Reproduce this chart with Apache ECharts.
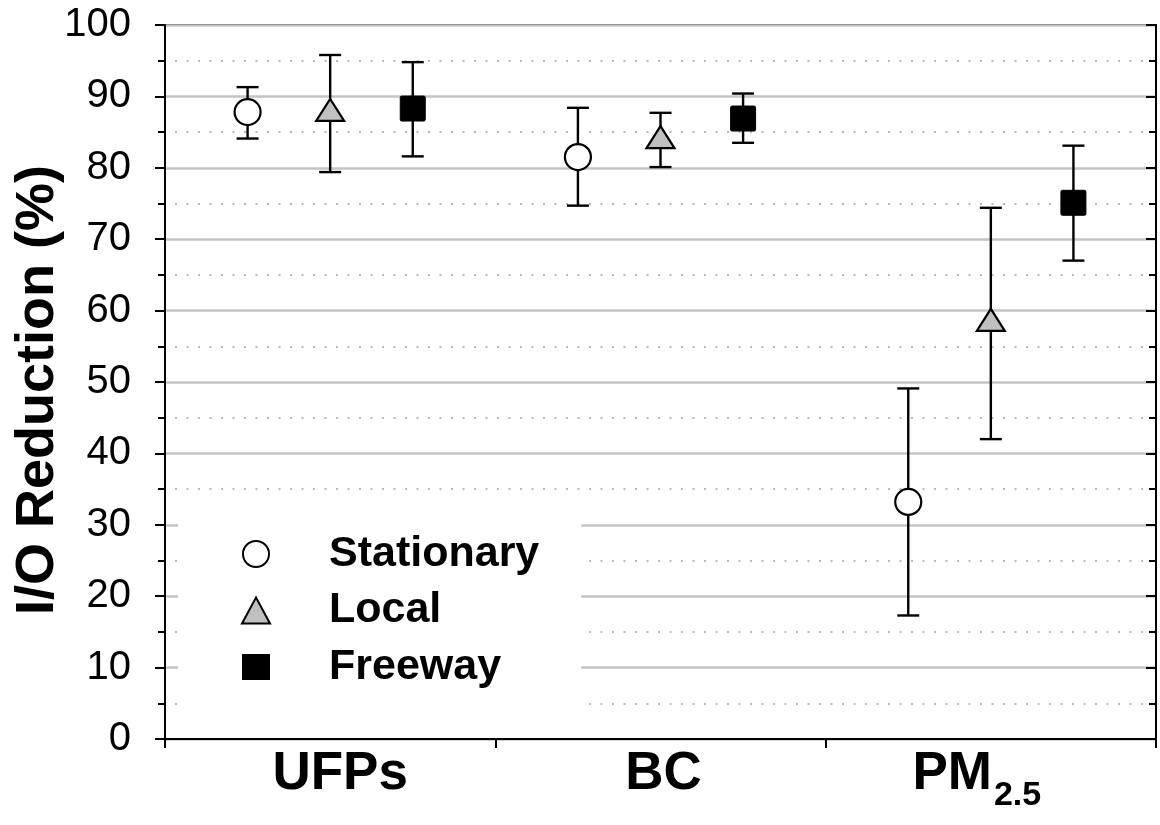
<!DOCTYPE html>
<html>
<head>
<meta charset="utf-8">
<script src="https://cdn.jsdelivr.net/npm/echarts@6/dist/echarts.min.js"></script>
<style>
  html, body { margin: 0; padding: 0; background: #fff; }
  #chart { width: 1160px; height: 825px; }
</style>
</head>
<body>
<div id="chart"></div>
<script>
// Pollutant groups along the x axis
const categories = ['UFPs', 'BC', 'PM2.5'];
const seriesNames = ['Stationary', 'Local', 'Freeway'];

// I/O reduction (%) per group: mean and the ends of the error bar
const stationaryMean = [87.8, 81.5, 33.2];
const stationaryLow  = [84.1, 74.7, 17.3];
const stationaryHigh = [91.3, 88.4, 49.1];

const localMean = [88.1, 84.3, 58.7];
const localLow  = [79.4, 80.1, 42.0];
const localHigh = [95.8, 87.7, 74.4];

const freewayMean = [88.3, 86.9, 75.1];
const freewayLow  = [81.6, 83.5, 67.0];
const freewayHigh = [94.8, 90.4, 83.1];

// Value axis range
const yMin = 0;
const yMax = 100;
const yStep = 10;

const FONT = "'Liberation Sans', Arial, sans-serif";

function rows(mean, low, high) {
  return mean.map((m, i) => [i, m, low[i], high[i]]);
}

// Marker looks and horizontal placement inside each category band
const looks = {
  Stationary: { offset: -0.25, shape: 'circle', fill: '#ffffff' },
  Local:      { offset: 0,     shape: 'triangle', fill: '#c0c0c0' },
  Freeway:    { offset: 0.25,  shape: 'square', fill: '#000000' }
};

// Small horizontal nudges of the category labels (style only)
const labelPad = {
  'UFPs':  [0, 0, 0, 20],
  'BC':    [0, 0, 0, 6],
  'PM2.5': [0, 28, 0, 0]
};

function markerShape(kind, x, y, fill) {
  const stroke = { stroke: '#000', lineWidth: 2.2, fill: fill };
  if (kind === 'circle') {
    return { type: 'circle', shape: { cx: x, cy: y, r: 13 }, style: stroke };
  }
  if (kind === 'triangle') {
    return {
      type: 'polygon',
      shape: { points: [[x - 14, y + 11], [x + 14, y + 11], [x, y - 11]] },
      style: Object.assign({ lineJoin: 'miter' }, stroke)
    };
  }
  return {
    type: 'rect',
    shape: { x: x - 12.5, y: y - 12.5, width: 25, height: 25, r: 1.5 },
    style: { fill: fill, stroke: '#000', lineWidth: 1 }
  };
}

function makeRenderer(look) {
  return function (params, api) {
    const cat = api.value(0);
    const band = api.size([1, 0])[0];
    const mid = api.coord([cat, api.value(1)]);
    const lo = api.coord([cat, api.value(2)]);
    const hi = api.coord([cat, api.value(3)]);
    const x = mid[0] + look.offset * band;
    const cap = 11;
    const line = { stroke: '#000', lineWidth: 2.4 };
    return {
      type: 'group',
      children: [
        { type: 'line', shape: { x1: x, y1: lo[1], x2: x, y2: hi[1] }, style: line },
        { type: 'line', shape: { x1: x - cap, y1: hi[1], x2: x + cap, y2: hi[1] }, style: line },
        { type: 'line', shape: { x1: x - cap, y1: lo[1], x2: x + cap, y2: lo[1] }, style: line },
        markerShape(look.shape, x, mid[1], look.fill)
      ]
    };
  };
}

const seriesData = {
  Stationary: rows(stationaryMean, stationaryLow, stationaryHigh),
  Local: rows(localMean, localLow, localHigh),
  Freeway: rows(freewayMean, freewayLow, freewayHigh)
};

const legendIcons = {
  Stationary: { icon: 'circle', itemStyle: { color: '#fff', borderColor: '#000', borderWidth: 2 } },
  Local: { icon: 'triangle', itemStyle: { color: '#c0c0c0', borderColor: '#000', borderWidth: 2 } },
  Freeway: { icon: 'rect', itemStyle: { color: '#000', borderColor: '#000', borderWidth: 0 } }
};

// Rich-text styles for the category labels (PM2.5 gets a subscript)
const catRich = {
  s: { fontFamily: FONT, fontWeight: 'bold', fontSize: 34, color: '#000', lineHeight: 34, padding: [31, 28, 0, 2] }
};
categories.forEach((c, i) => {
  const p = labelPad[c];
  catRich['c' + i] = {
    fontFamily: FONT, fontWeight: 'bold', fontSize: 53, color: '#000', lineHeight: 53,
    padding: [0, c === 'PM2.5' ? 0 : p[1], 12, p[3]]
  };
});

const chart = echarts.init(document.getElementById('chart'), null, { renderer: 'canvas' });

chart.setOption({
  animation: false,
  backgroundColor: '#fff',
  grid: {
    left: 165, right: 4, top: 25, bottom: 86,
    outerBoundsMode: 'none',
    containLabel: false,
    show: true, borderColor: '#000', borderWidth: 2, backgroundColor: 'transparent'
  },
  legend: {
    orient: 'vertical',
    left: 178,
    top: 501,
    padding: [30, 42, 40, 63],
    backgroundColor: '#fff',
    itemWidth: 28,
    itemHeight: 26,
    itemGap: 10.5,
    selectedMode: false,
    textStyle: {
      fontFamily: FONT, fontWeight: 'bold', fontSize: 43, color: '#000',
      lineHeight: 46, padding: [0, 0, 0, 54]
    },
    data: seriesNames.map(n => Object.assign({ name: n }, legendIcons[n]))
  },
  xAxis: {
    type: 'category',
    data: categories,
    boundaryGap: true,
    axisLine: { lineStyle: { color: '#000', width: 2 } },
    axisTick: { show: true, length: 9, lineStyle: { color: '#000', width: 2 } },
    splitLine: { show: false },
    axisLabel: {
      margin: 15,
      color: '#000',
      formatter: function (v, i) {
        if (v === 'PM2.5') return '{c' + i + '|PM}{s|2.5}';
        return '{c' + i + '|' + v + '}';
      },
      rich: catRich
    }
  },
  yAxis: [
    {
      type: 'value',
      min: yMin, max: yMax, interval: yStep,
      position: 'left',
      name: 'I/O Reduction (%)',
      nameLocation: 'middle',
      nameRotate: 90,
      nameGap: 100,
      nameMoveOverlap: false,
      nameTextStyle: {
        fontFamily: FONT, fontWeight: 'bold', fontSize: 54, color: '#000',
        padding: [0, 16, 0, 0]
      },
      axisLine: { show: true, lineStyle: { color: '#000', width: 2 } },
      axisTick: { show: true, length: 10, lineStyle: { color: '#000', width: 2 } },
      minorTick: { show: true, splitNumber: 2, length: 7, lineStyle: { color: '#000', width: 2 } },
      axisLabel: { margin: 34, fontFamily: FONT, fontSize: 40, color: '#000' },
      splitLine: { show: true, lineStyle: { color: '#c4c4c4', width: 2.5 } },
      minorSplitLine: { show: true, lineStyle: { color: '#b9b9b9', width: 2, type: [2, 9.5], dashOffset: 1.5 } }
    },
    {
      type: 'value',
      min: yMin, max: yMax, interval: yStep,
      position: 'right',
      axisLine: { show: true, lineStyle: { color: '#000', width: 2 } },
      axisTick: { show: true, inside: true, length: 10, lineStyle: { color: '#000', width: 2 } },
      minorTick: { show: true, splitNumber: 2, length: 7, lineStyle: { color: '#000', width: 2 } },
      axisLabel: { show: false },
      splitLine: { show: false },
      minorSplitLine: { show: false }
    }
  ],
  series: seriesNames.map(name => ({
    name: name,
    type: 'custom',
    yAxisIndex: 0,
    clip: false,
    z: 3,
    itemStyle: { color: legendIcons[name].itemStyle.color },
    encode: { x: 0, y: [1, 2, 3] },
    renderItem: makeRenderer(looks[name]),
    data: seriesData[name]
  }))
});
</script>
</body>
</html>
